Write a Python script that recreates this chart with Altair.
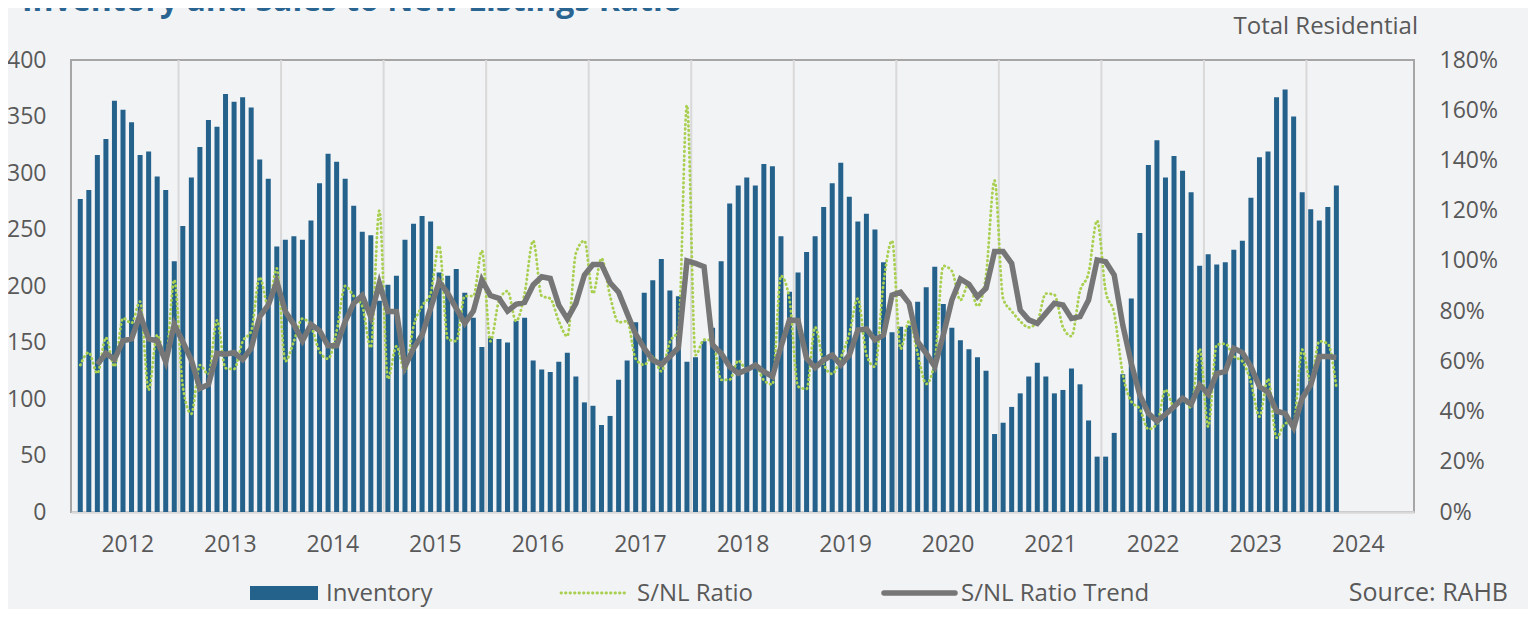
import json
import altair as alt
import pandas as pd

# ---------------- data ----------------
inventory = [
    277, 285, 316, 330, 364, 356, 345, 316, 319, 297, 285, 222,
    253, 296, 323, 347, 341, 370, 363, 367, 358, 312, 295, 235,
    241, 244, 241, 258, 291, 317, 310, 295, 271, 248, 245, 187,
    201, 209, 241, 255, 262, 257, 212, 209, 215, 194, 172, 146,
    155, 153, 150, 169, 172, 134, 126, 124, 133, 141, 120, 97,
    94, 77, 85, 117, 134, 168, 194, 205, 224, 196, 191, 133,
    137, 151, 163, 222, 273, 289, 296, 289, 308, 306, 244, 195,
    212, 230, 244, 270, 291, 309, 279, 257, 264, 250, 221, 159,
    164, 165, 186, 199, 217, 184, 163, 152, 144, 137, 125, 69,
    79, 93, 105, 120, 132, 120, 105, 108, 127, 113, 81, 49,
    49, 70, 122, 189, 247, 307, 329, 296, 315, 302, 283, 218,
    228, 219, 221, 232, 240, 278, 314, 319, 367, 374, 350, 283,
    268, 258, 270, 289,
]

sn_ratio = [
    58.5, 63.5, 55.2, 69.4, 57.9, 77.2, 75.2, 83.8, 48.6, 70.5,
    61, 92.4, 50, 39.1, 58.5, 54.8, 76.3, 57.3, 56.9, 67.9,
    72, 93.5, 82, 97, 60, 68, 77, 74, 64, 61,
    72, 90, 86, 82, 65.4, 120, 53, 66, 56, 74,
    82, 87, 106, 69, 68, 86, 86, 104, 68, 84,
    88, 76, 87, 108, 86, 85, 76, 70, 103, 108,
    87, 101, 86, 75.5, 76, 61, 58.6, 62, 56, 67.7,
    72.5, 162, 62.5, 68.6, 68.4, 52.6, 52.7, 60.3, 56.8, 58.4,
    52.5, 50.8, 94, 84.7, 50, 49, 73.6, 59, 55, 61.5,
    71, 85, 62.7, 57.8, 91, 108, 65, 76, 63, 51,
    60, 98, 96, 84.4, 91, 82, 94.3, 132, 85, 80,
    76, 73.5, 75.8, 87, 86.5, 73.7, 70, 88, 95.2, 116,
    88, 79, 55, 44, 41, 33, 35, 48.7, 42, 45.2,
    41.5, 65, 34, 66.6, 67, 62, 60, 51.7, 38, 53,
    29.6, 35.3, 35.9, 64.7, 52, 68, 67, 49.5,
]

sn_trend = [
    None, None, 58.8, 63.2, 60.8, 68.2, 68.9, 78.6, 68.9, 68.2,
    59.9, 74.7, 67.8, 60.5, 49.2, 50.8, 63.2, 62.8, 63.5, 60.7,
    65.2, 77.8, 82.4, 91.7, 79.8, 74.7, 68.2, 74.7, 72.2, 66.2,
    66.2, 75.8, 83.1, 86.2, 77.8, 91.1, 79.8, 79.8, 57.9, 65.2,
    70.5, 81.1, 91.7, 87.1, 81.1, 75.1, 80, 92.4, 86.2, 85.1,
    80, 82.7, 83.5, 90.4, 93.7, 93, 82.4, 76.9, 83.1, 94.4,
    98.6, 98.6, 91.3, 87.5, 79.1, 70.8, 65.2, 60.5, 58.8, 61.9,
    65.4, 100, 99, 97.7, 66.5, 63.2, 57.9, 55.2, 56.6, 58.5,
    55.9, 53.9, 65.8, 76.5, 76.2, 61.2, 57.5, 60.5, 62.5, 58.5,
    62.5, 72.5, 72.9, 68.5, 70.5, 86.4, 87.5, 83.1, 67.8, 63.2,
    57.9, 70.5, 84.4, 92.8, 90.7, 85.7, 89.1, 103.7, 103.7, 99,
    80.4, 76.5, 75.1, 79.1, 83.1, 82.4, 77.1, 77.8, 84.4, 100.4,
    99.7, 94.4, 74.5, 59.2, 46.6, 39.3, 36.2, 38.9, 41.9, 45.3,
    42.9, 50.6, 46.9, 55.2, 55.9, 65.2, 63.5, 57.9, 49.9, 47.7,
    40.2, 39.3, 33.6, 45.3, 50.6, 61.9, 61.9, 61.5,
]

year_labels = ["2012", "2013", "2014", "2015", "2016", "2017", "2018",
               "2019", "2020", "2021", "2022", "2023", "2024"]
left_ticks = [0, 50, 100, 150, 200, 250, 300, 350, 400]
right_ticks = [0, 20, 40, 60, 80, 100, 120, 140, 160, 180]

title_text = "Inventory and Sales to New Listings Ratio"
subtitle_text = "Total Residential"
source_text = "Source: RAHB"
legend_names = ["Inventory", "S/NL Ratio", "S/NL Ratio Trend"]

# ---------------- build ----------------
n_slots = 12 * len(year_labels)
df = pd.DataFrame({
    "m": list(range(len(inventory))),
    "inv": inventory,
    "ratio": sn_ratio,
    "trend": sn_trend,
})
bounds = pd.DataFrame({"m": [12 * k - 0.5 for k in range(1, len(year_labels))]})

FONT = "Open Sans"
GRAY = "#595959"
BLUE = "#24618b"
GREEN = "#a8cf4f"
TREND = "#767676"

xscale = alt.Scale(domain=[-0.5, n_slots - 0.5], nice=False, zero=False)
xaxis = alt.Axis(
    values=[12 * i + 5.5 for i in range(len(year_labels))],
    labelExpr=json.dumps(year_labels) + "[floor(datum.value / 12)]",
    ticks=False, grid=False, domainColor="#d9d9d9", domainWidth=2.5,
    labelPadding=21, labelFont=FONT, labelFontSize=23, labelColor=GRAY,
    labelFlush=False, labelOverlap=False, title=None,
)
X = alt.X("m:Q", scale=xscale, axis=xaxis)

grid = alt.Chart(bounds).mark_rule(color="#d9d9d9", strokeWidth=2).encode(x=X)

bars = alt.Chart(df).mark_bar(size=5, color=BLUE).encode(
    x=X,
    y=alt.Y("inv:Q", scale=alt.Scale(domain=[0, 400], nice=False),
            axis=alt.Axis(orient="left", values=left_ticks, ticks=False, domain=False,
                          grid=False, labelPadding=25, labelFont=FONT, labelFontSize=23,
                          labelColor=GRAY, title=None)),
)

rscale = alt.Scale(domain=[0, 180], nice=False)
raxis = alt.Axis(orient="right", values=right_ticks, labelExpr="datum.value + '%'",
                 ticks=False, domain=False, grid=False, labelPadding=25, labelFont=FONT,
                 labelFontSize=23, labelColor=GRAY, title=None)

ratio_line = alt.Chart(df).mark_line(
    color=GREEN, strokeWidth=2.8, strokeDash=[0.5, 4], strokeCap="round",
    interpolate="monotone",
).encode(x=X, y=alt.Y("ratio:Q", scale=rscale, axis=raxis))

trend_line = alt.Chart(df).mark_line(color=TREND, strokeWidth=5.5).encode(
    x=X, y=alt.Y("trend:Q", scale=rscale, axis=raxis))

lines = alt.layer(ratio_line, trend_line)


def label(text, x, y, size, align="left", color=GRAY, weight="normal"):
    return alt.Chart(pd.DataFrame({"t": [text]})).mark_text(
        align=align, baseline="alphabetic", font=FONT, fontSize=size,
        fontWeight=weight, color=color,
    ).encode(text="t:N", x=alt.value(x), y=alt.value(y))


one = pd.DataFrame({"k": [0]})
title = label(title_text, -49, -49, 32, color="#2a6592", weight="bold")
subtitle = label(subtitle_text, 1347, -26, 24, align="right")
source = label(source_text, 1437, 541, 25, align="right")

LY = 533  # legend symbol centre (plot coordinates)
leg_rect = alt.Chart(one).mark_rect(color=BLUE).encode(
    x=alt.value(179), x2=alt.value(247), y=alt.value(LY - 7), y2=alt.value(LY + 7))
leg_t1 = label(legend_names[0], 255, LY + 8, 24)
leg_dot = alt.Chart(one).mark_rule(color=GREEN, strokeWidth=2.8, strokeDash=[0.5, 4],
                                   strokeCap="round").encode(
    x=alt.value(490), x2=alt.value(554), y=alt.value(LY))
leg_t2 = label(legend_names[1], 566, LY + 8, 24)
leg_trend = alt.Chart(one).mark_rule(color=TREND, strokeWidth=5.5, strokeCap="round").encode(
    x=alt.value(813), x2=alt.value(884), y=alt.value(LY))
leg_t3 = label(legend_names[2], 890, LY + 8, 24)

chart = alt.layer(
    grid, bars, lines, title, subtitle, source,
    leg_rect, leg_t1, leg_dot, leg_t2, leg_trend, leg_t3,
).resolve_scale(y="independent").properties(
    width=1343, height=452,
    autosize=alt.AutoSizeParams(type="none"),
    padding={"left": 63, "top": 52, "right": 114, "bottom": 97},
    background="#f2f3f5",
).configure_view(stroke="#a6a6a6", strokeWidth=2)

chart.save("out.html", embed_options={"renderer": "svg", "actions": False})
